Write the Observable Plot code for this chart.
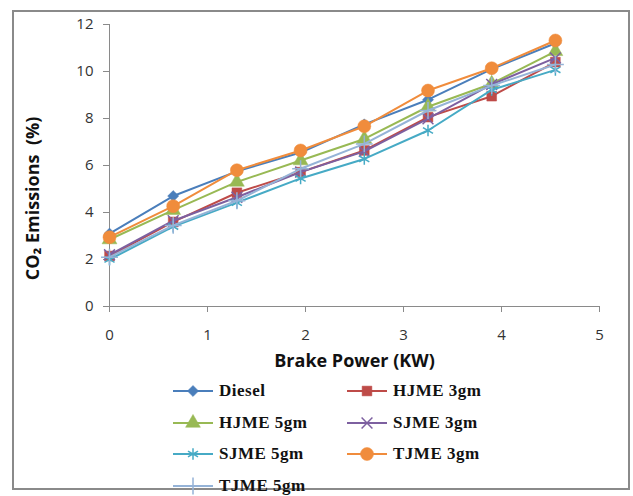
<!DOCTYPE html>
<html>
<head>
<meta charset="utf-8">
<script src="https://cdn.jsdelivr.net/npm/d3@7"></script>
<script src="https://cdn.jsdelivr.net/npm/@observablehq/plot@0.6"></script>
<style>
  html, body { margin: 0; padding: 0; background: #fff; }
  #wrap { position: relative; width: 633px; height: 496px; overflow: hidden; }
  #frame { position: absolute; left: 12px; top: 10px; width: 614px; height: 476px; border: 2px solid #8a8a8a; }
  #chart { position: absolute; left: 0; top: 0; }
  .leg { position: absolute; display: flex; align-items: center; font-family: "Liberation Serif", "Times New Roman", serif; font-size: 17px; font-weight: bold; color: #111; letter-spacing: 0.5px; white-space: nowrap; }
  .leg svg { margin-right: 4px; }
</style>
</head>
<body>
<div id="wrap">
  <div id="frame"></div>
  <div id="chart"></div>
</div>
<script>
const brakePower = [0, 0.65, 1.3, 1.95, 2.6, 3.25, 3.9, 4.55];
const seriesNames = ["Diesel", "HJME 3gm", "HJME 5gm", "SJME 3gm", "SJME 5gm", "TJME 3gm", "TJME 5gm"];
const diesel = [3.1, 4.7, 5.75, 6.55, 7.75, 8.8, 10.1, 11.2];
const hjme3 = [2.15, 3.6, 4.84, 5.72, 6.64, 8.06, 8.95, 10.4];
const hjme5 = [2.85, 4.1, 5.3, 6.21, 7.13, 8.5, 9.48, 10.86];
const sjme3 = [2.2, 3.65, 4.65, 5.72, 6.6, 7.99, 9.45, 10.58];
const sjme5 = [2.0, 3.4, 4.42, 5.45, 6.28, 7.49, 9.22, 10.07];
const tjme3 = [2.95, 4.27, 5.8, 6.64, 7.67, 9.19, 10.14, 11.32];
const tjme5 = [2.1, 3.45, 4.5, 5.86, 6.92, 8.34, 9.4, 10.3];
const xTicks = [0, 1, 2, 3, 4, 5];
const yTicks = [0, 2, 4, 6, 8, 10, 12];

const seriesValues = [diesel, hjme3, hjme5, sjme3, sjme5, tjme3, tjme5];
const colors = ["#4A7EBB", "#BE4B48", "#98B954", "#7D60A0", "#46AAC5", "#F08C3C", "#95B3D7"];
const symbols = ["diamond2", "square", "triangle", "times", "asterisk", "circle", "plus"];
const filled = [true, true, true, false, false, true, false];
const radii = [5, 5.5, 5.5, 5, 5.5, 6.5, 5.5];

const data = seriesNames.flatMap((name, si) =>
  brakePower.map((x, i) => ({series: name, x, y: seriesValues[si][i]})));

const marks = [
  Plot.ruleY([0], {stroke: "#8a8a8a", strokeWidth: 1}),
  Plot.ruleX([0], {stroke: "#8a8a8a", strokeWidth: 1}),
  Plot.axisY({ticks: yTicks, tickSize: 6, tickPadding: 10, fontSize: 15, label: null, stroke: "#8a8a8a", fill: "#333", tickFormat: d => String(d)}),
  Plot.axisX({ticks: xTicks, tickSize: 6, tickPadding: 17, fontSize: 15, label: null, stroke: "#8a8a8a", fill: "#333", tickFormat: d => String(d)}),
];
seriesNames.forEach((name, si) => {
  const d = data.filter(r => r.series === name);
  marks.push(Plot.line(d, {x: "x", y: "y", stroke: colors[si], strokeWidth: 2}));
  marks.push(Plot.dot(d, {
    x: "x", y: "y", symbol: () => symbols[si], r: radii[si],
    fill: filled[si] ? colors[si] : "none",
    stroke: colors[si], strokeWidth: filled[si] ? 0.5 : 1.5
  }));
});
marks.push(Plot.text(["Brake Power (KW)"], {frameAnchor: "bottom", dy: 55, lineAnchor: "middle", textAnchor: "middle", fontSize: 18, fontWeight: "bold", fill: "#111"}));
marks.push(Plot.text(["CO\u2082 Emissions  (%)"], {frameAnchor: "left", dx: -76, dy: 33, rotate: -90, textAnchor: "middle", lineAnchor: "middle", fontSize: 18, fontWeight: "bold", fill: "#111"}));

const chart = Plot.plot({
  width: 633,
  height: 380,
  marginLeft: 109,
  marginRight: 34,
  marginTop: 24,
  marginBottom: 74,
  style: {fontFamily: "'Open Sans', sans-serif", background: "transparent"},
  x: {domain: [0, 5]},
  y: {domain: [0, 12]},
  marks
});
document.getElementById("chart").appendChild(chart);

// legend
const wrap = document.getElementById("wrap");
const symMap = {diamond2: d3.symbolDiamond2, square: d3.symbolSquare, triangle: d3.symbolTriangle, times: d3.symbolTimes, asterisk: d3.symbolAsterisk, circle: d3.symbolCircle, plus: d3.symbolPlus};
seriesNames.forEach((name, si) => {
  const col = si % 2, row = Math.floor(si / 2);
  const div = document.createElement("div");
  div.className = "leg";
  div.style.left = (col ? 347 : 173) + "px";
  div.style.top = (381 + row * 31.5) + "px";
  const svg = d3.create("svg").attr("width", 42).attr("height", 20);
  svg.append("line").attr("x1", 0).attr("x2", 40).attr("y1", 10).attr("y2", 10).attr("stroke", colors[si]).attr("stroke-width", 2);
  svg.append("path").attr("transform", "translate(20,10)")
    .attr("d", d3.symbol(symMap[symbols[si]], Math.PI * radii[si] * radii[si])())
    .attr("fill", filled[si] ? colors[si] : "none").attr("stroke", colors[si]).attr("stroke-width", filled[si] ? 0.5 : 1.5);
  div.appendChild(svg.node());
  const span = document.createElement("span");
  span.textContent = name;
  div.appendChild(span);
  wrap.appendChild(div);
});
</script>
</body>
</html>
